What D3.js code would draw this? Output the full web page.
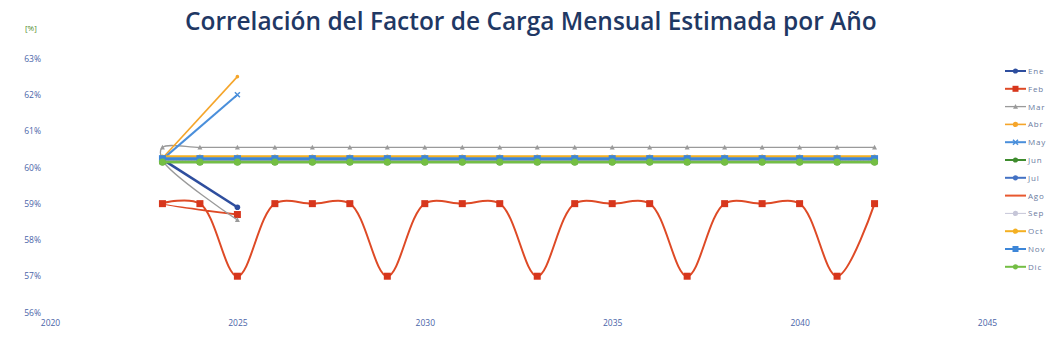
<!DOCTYPE html>
<html><head><meta charset="utf-8">
<script src="https://cdn.jsdelivr.net/npm/d3@7"></script>
<style>body{margin:0;background:#fff;overflow:hidden}svg{display:block}</style>
</head><body>
<svg id="c" width="1046" height="355"></svg>
<script>
// ---- data ----
const title = "Correlación del Factor de Carga Mensual Estimada por Año";
const unitLabel = "[%]";
const yTicks = [56, 57, 58, 59, 60, 61, 62, 63];
const xTicks = [2020, 2025, 2030, 2035, 2040, 2045];
const months = ["Ene","Feb","Mar","Abr","May","Jun","Jul","Ago","Sep","Oct","Nov","Dic"];

const yearsFull = [2023,2024,2025,2026,2027,2028,2029,2030,2031,2032,2033,2034,2035,2036,2037,2038,2039,2040,2041,2042];

const eneX = [2023, 2025];
const eneY = [60.22, 58.9];
const febX = [2025, 2023,2024,2025,2026,2027,2028,2029,2030,2031,2032,2033,2034,2035,2036,2037,2038,2039,2040,2041,2042];
const febY = [58.7, 59.0,59.0,57.0,59.0,59.0,59.0,57.0,59.0,59.0,59.0,57.0,59.0,59.0,59.0,57.0,59.0,59.0,59.0,57.0,59.0];
const marX = [2025, 2023, 2023,2024,2025,2026,2027,2028,2029,2030,2031,2032,2033,2034,2035,2036,2037,2038,2039,2040,2041,2042];
const marY = [58.55, 60.2, 60.55,60.55,60.55,60.55,60.55,60.55,60.55,60.55,60.55,60.55,60.55,60.55,60.55,60.55,60.55,60.55,60.55,60.55,60.55,60.55];
const abrX = [2023, 2025];
const abrY = [60.25, 62.5];
const mayX = [2023, 2025];
const mayY = [60.22, 62.0];
const junY = [60.15,60.15,60.15,60.15,60.15,60.15,60.15,60.15,60.15,60.15,60.15,60.15,60.15,60.15,60.15,60.15,60.15,60.15,60.15,60.15];
const julY = [60.2,60.2,60.2,60.2,60.2,60.2,60.2,60.2,60.2,60.2,60.2,60.2,60.2,60.2,60.2,60.2,60.2,60.2,60.2,60.2];
const agoY = [60.22,60.22,60.22,60.22,60.22,60.22,60.22,60.22,60.22,60.22,60.22,60.22,60.22,60.22,60.22,60.22,60.22,60.22,60.22,60.22];
const sepY = [60.2,60.2,60.2,60.2,60.2,60.2,60.2,60.2,60.2,60.2,60.2,60.2,60.2,60.2,60.2,60.2,60.2,60.2,60.2,60.2];
const octY = [60.3,60.3,60.3,60.3,60.3,60.3,60.3,60.3,60.3,60.3,60.3,60.3,60.3,60.3,60.3,60.3,60.3,60.3,60.3,60.3];
const novY = [60.24,60.24,60.24,60.24,60.24,60.24,60.24,60.24,60.24,60.24,60.24,60.24,60.24,60.24,60.24,60.24,60.24,60.24,60.24,60.24];
const dicY = [60.15,60.15,60.15,60.15,60.15,60.15,60.15,60.15,60.15,60.15,60.15,60.15,60.15,60.15,60.15,60.15,60.15,60.15,60.15,60.15];

// ---- styles ----
const styles = {
  Ene:{c:"#2E4E9E", w:2.6, m:"circle", ms:2.8},
  Feb:{c:"#DE4A26", w:2, m:"square", ms:7, mc:"#D7361C"},
  Mar:{c:"#9A9A9A", w:1.3, m:"triangle", ms:4.5},
  Abr:{c:"#F5A52A", w:1.6, m:"circle", ms:1.8},
  May:{c:"#4A8FDB", w:2, m:"cross", ms:5},
  Jun:{c:"#3F8C2E", w:2.5, m:"circle", ms:3.5},
  Jul:{c:"#4472C4", w:2, m:"circle", ms:2},
  Ago:{c:"#E8582F", w:2, m:null},
  Sep:{c:"#C6C6D8", w:1, m:"circle", ms:1.5},
  Oct:{c:"#F4B022", w:2.5, m:"circle", ms:2},
  Nov:{c:"#3D86D8", w:3, m:"square", ms:7},
  Dic:{c:"#74BE44", w:2.5, m:"circle", ms:3.5}
};

const zip = (xs, ys) => xs.map((x, i) => ({x, y: ys[i]}));
const series = [
  {name:"Ene", pts: zip(eneX, eneY)},
  {name:"Feb", pts: zip(febX, febY)},
  {name:"Mar", pts: zip(marX, marY)},
  {name:"Abr", pts: zip(abrX, abrY)},
  {name:"May", pts: zip(mayX, mayY)},
  {name:"Jun", pts: zip(yearsFull, junY)},
  {name:"Jul", pts: zip(yearsFull, julY)},
  {name:"Ago", pts: zip(yearsFull, agoY)},
  {name:"Sep", pts: zip(yearsFull, sepY)},
  {name:"Oct", pts: zip(yearsFull, octY)},
  {name:"Nov", pts: zip(yearsFull, novY)},
  {name:"Dic", pts: zip(yearsFull, dicY)}
];

const svg = d3.select("#c");
const x = d3.scaleLinear().domain([2020, 2045]).range([50, 987]);
const y = d3.scaleLinear().domain([56, 63]).range([312.5, 58.5]);

// title
const t = svg.append("text").attr("x", 185).attr("y", 30)
  .attr("font-family", "Open Sans, sans-serif").attr("font-weight", 600)
  .attr("font-size", 26).attr("fill", "#1F3864").text(title);
const tl = t.node().getComputedTextLength();
t.attr("font-size", 26 * 692 / tl);

svg.append("text").attr("x", 25).attr("y", 31).attr("font-family", "Open Sans, sans-serif")
  .attr("font-size", 8).attr("fill", "#4E8B2E").text(unitLabel);

// axes (no lines)
const yAxis = svg.append("g").attr("transform", "translate(41,0)")
  .call(d3.axisLeft(y).tickValues(yTicks).tickSize(0).tickPadding(0).tickFormat(d => d + "%"));
yAxis.select(".domain").remove();
yAxis.selectAll("text").attr("font-family", "Open Sans, sans-serif").attr("font-size", 8.5).attr("fill", "#4A64A8");

const xAxis = svg.append("g").attr("transform", "translate(0,320)")
  .call(d3.axisBottom(x).tickValues(xTicks).tickSize(0).tickPadding(0).tickFormat(d3.format("d")));
xAxis.select(".domain").remove();
xAxis.selectAll("text").attr("font-family", "Open Sans, sans-serif").attr("font-size", 8.5).attr("fill", "#4A64A8");

// lines
const line = d3.line().x(d => x(d.x)).y(d => y(d.y)).curve(d3.curveCatmullRom.alpha(0.5));
const plot = svg.append("g");

function marker(g, type, size, color, cx, cy) {
  if (type === "square") {
    g.append("rect").attr("x", cx - size/2).attr("y", cy - size/2).attr("width", size).attr("height", size).attr("fill", color);
  } else if (type === "circle") {
    g.append("circle").attr("cx", cx).attr("cy", cy).attr("r", size).attr("fill", color);
  } else if (type === "triangle") {
    const s = size;
    g.append("path").attr("d", `M${cx},${cy - s*0.6}L${cx + s*0.55},${cy + s*0.45}L${cx - s*0.55},${cy + s*0.45}Z`).attr("fill", color);
  } else if (type === "cross") {
    const s = size/2;
    g.append("path").attr("d", `M${cx-s},${cy-s}L${cx+s},${cy+s}M${cx-s},${cy+s}L${cx+s},${cy-s}`).attr("stroke", color).attr("stroke-width", 1.5);
  }
}

series.forEach(s => {
  const st = styles[s.name];
  const g = plot.append("g");
  g.append("path").datum(s.pts).attr("d", line).attr("fill", "none")
    .attr("stroke", st.c).attr("stroke-width", st.w).attr("stroke-linejoin", "round");
  if (st.m) s.pts.forEach(p => marker(g, st.m, st.ms, st.mc || st.c, x(p.x), y(p.y)));
});

// legend
const lg = svg.append("g");
months.forEach((m, i) => {
  const st = styles[m];
  const ly = 71 + i * 17.8;
  const g = lg.append("g");
  g.append("line").attr("x1", 1005).attr("x2", 1026).attr("y1", ly).attr("y2", ly)
    .attr("stroke", st.c).attr("stroke-width", Math.min(st.w, 2));
  if (st.m) marker(g, st.m, st.m === "square" ? 6 : (st.m === "circle" ? 2.6 : st.ms), st.mc || st.c, 1015.5, ly);
  g.append("text").attr("x", 1028).attr("y", ly + 3).attr("font-family", "Open Sans, sans-serif")
    .attr("font-size", 8).attr("letter-spacing", 0.8).attr("fill", "#6A7AA0").text(m);
});
</script>
</body></html>
